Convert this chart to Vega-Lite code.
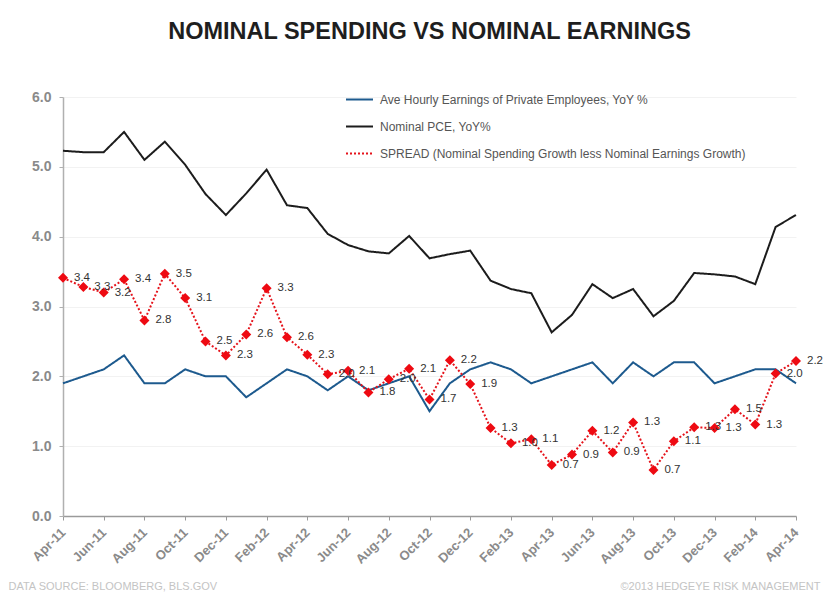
{
  "$schema": "https://vega.github.io/schema/vega-lite/v6.json",
  "width": 733,
  "height": 419,
  "autosize": "none",
  "padding": {"left": 63, "top": 97, "right": 34, "bottom": 86},
  "background": "white",
  "config": {
    "font": "Liberation Sans",
    "view": {"stroke": null}
  },
  "title": {
    "text": "NOMINAL SPENDING VS NOMINAL EARNINGS",
    "font": "Liberation Sans",
    "fontSize": 23.5,
    "fontWeight": "bold",
    "color": "#1e1e1e",
    "anchor": "middle",
    "offset": 42
  },
  "data": {
    "values": [
      {"m": "Apr-11", "earn": 1.9, "pce": 5.23, "spread": 3.41},
      {"m": "May-11", "earn": 2.0, "pce": 5.21, "spread": 3.28},
      {"m": "Jun-11", "earn": 2.1, "pce": 5.21, "spread": 3.20},
      {"m": "Jul-11", "earn": 2.3, "pce": 5.50, "spread": 3.39},
      {"m": "Aug-11", "earn": 1.9, "pce": 5.10, "spread": 2.80},
      {"m": "Sep-11", "earn": 1.9, "pce": 5.36, "spread": 3.47},
      {"m": "Oct-11", "earn": 2.1, "pce": 5.03, "spread": 3.12},
      {"m": "Nov-11", "earn": 2.0, "pce": 4.61, "spread": 2.50},
      {"m": "Dec-11", "earn": 2.0, "pce": 4.31, "spread": 2.30},
      {"m": "Jan-12", "earn": 1.7, "pce": 4.62, "spread": 2.60},
      {"m": "Feb-12", "earn": 1.9, "pce": 4.96, "spread": 3.26},
      {"m": "Mar-12", "earn": 2.1, "pce": 4.45, "spread": 2.56},
      {"m": "Apr-12", "earn": 2.0, "pce": 4.41, "spread": 2.31},
      {"m": "May-12", "earn": 1.8, "pce": 4.04, "spread": 2.03},
      {"m": "Jun-12", "earn": 2.0, "pce": 3.88, "spread": 2.08},
      {"m": "Jul-12", "earn": 1.8, "pce": 3.79, "spread": 1.77},
      {"m": "Aug-12", "earn": 1.9, "pce": 3.76, "spread": 1.96},
      {"m": "Sep-12", "earn": 2.0, "pce": 4.01, "spread": 2.11},
      {"m": "Oct-12", "earn": 1.5, "pce": 3.69, "spread": 1.67},
      {"m": "Nov-12", "earn": 1.9, "pce": 3.75, "spread": 2.23},
      {"m": "Dec-12", "earn": 2.1, "pce": 3.80, "spread": 1.89},
      {"m": "Jan-13", "earn": 2.2, "pce": 3.37, "spread": 1.26},
      {"m": "Feb-13", "earn": 2.1, "pce": 3.25, "spread": 1.04},
      {"m": "Mar-13", "earn": 1.9, "pce": 3.19, "spread": 1.10},
      {"m": "Apr-13", "earn": 2.0, "pce": 2.63, "spread": 0.73},
      {"m": "May-13", "earn": 2.1, "pce": 2.88, "spread": 0.88},
      {"m": "Jun-13", "earn": 2.2, "pce": 3.32, "spread": 1.22},
      {"m": "Jul-13", "earn": 1.9, "pce": 3.12, "spread": 0.91},
      {"m": "Aug-13", "earn": 2.2, "pce": 3.25, "spread": 1.34},
      {"m": "Sep-13", "earn": 2.0, "pce": 2.86, "spread": 0.66},
      {"m": "Oct-13", "earn": 2.2, "pce": 3.08, "spread": 1.07},
      {"m": "Nov-13", "earn": 2.2, "pce": 3.48, "spread": 1.27},
      {"m": "Dec-13", "earn": 1.9, "pce": 3.46, "spread": 1.26},
      {"m": "Jan-14", "earn": 2.0, "pce": 3.43, "spread": 1.53},
      {"m": "Feb-14", "earn": 2.1, "pce": 3.32, "spread": 1.31},
      {"m": "Mar-14", "earn": 2.1, "pce": 4.14, "spread": 2.04},
      {"m": "Apr-14", "earn": 1.9, "pce": 4.31, "spread": 2.22}
    ]
  },
  "encoding": {
    "x": {
      "field": "m",
      "type": "ordinal",
      "scale": {
        "type": "point",
        "padding": 0,
        "domain": ["Apr-11","May-11","Jun-11","Jul-11","Aug-11","Sep-11","Oct-11","Nov-11","Dec-11","Jan-12","Feb-12","Mar-12","Apr-12","May-12","Jun-12","Jul-12","Aug-12","Sep-12","Oct-12","Nov-12","Dec-12","Jan-13","Feb-13","Mar-13","Apr-13","May-13","Jun-13","Jul-13","Aug-13","Sep-13","Oct-13","Nov-13","Dec-13","Jan-14","Feb-14","Mar-14","Apr-14"]
      },
      "axis": {
        "values": ["Apr-11","Jun-11","Aug-11","Oct-11","Dec-11","Feb-12","Apr-12","Jun-12","Aug-12","Oct-12","Dec-12","Feb-13","Apr-13","Jun-13","Aug-13","Oct-13","Dec-13","Feb-14","Apr-14"],
        "labelAngle": -45,
        "labelAlign": "right",
        "labelBaseline": "middle",
        "labelFontSize": 13,
        "labelFontWeight": "bold",
        "labelColor": "#8a8a8a",
        "labelPadding": 10,
        "tickSize": 4,
        "tickColor": "#9a9a9a",
        "domainColor": "#9a9a9a",
        "domainWidth": 1.5,
        "grid": false,
        "title": "DATA SOURCE:  BLOOMBERG,  BLS.GOV",
        "titleFont": "Liberation Sans",
        "titleFontSize": 11,
        "titleFontWeight": "normal",
        "titleColor": "#c4c4c4",
        "titleAnchor": "start",
        "titleAlign": "left",
        "titleBaseline": "middle",
        "titleX": -55,
        "titleY": 70
      }
    }
  },
  "layer": [
    {
      "transform": [{"fold": ["earn", "pce", "spread"], "as": ["s", "v"]}],
      "mark": {"type": "line", "strokeWidth": 2},
      "encoding": {
        "y": {
          "field": "v",
          "type": "quantitative",
          "scale": {"domain": [0, 6], "nice": false},
          "axis": {
            "values": [0, 1, 2, 3, 4, 5, 6],
            "format": ".1f",
            "labelFontSize": 14,
            "labelFontWeight": "bold",
            "labelColor": "#8a8a8a",
            "labelPadding": 8,
            "tickSize": 4,
            "tickColor": "#b0b0b0",
            "domainColor": "#b0b0b0",
            "domainWidth": 1.5,
            "grid": true,
            "gridColor": "#f2f2f2",
            "gridWidth": 1,
            "title": "©2013 HEDGEYE  RISK MANAGEMENT",
            "titleFont": "Liberation Sans",
            "titleFontSize": 11,
            "titleFontWeight": "normal",
            "titleColor": "#c4c4c4",
            "titleAngle": 0,
            "titleAlign": "right",
            "titleBaseline": "middle",
            "titleX": 757,
            "titleY": 489
          }
        },
        "color": {
          "field": "s",
          "type": "nominal",
          "scale": {"domain": ["earn", "pce", "spread"], "range": ["#1d5a8e", "#1c1c1c", "#e5131b"]},
          "legend": {
            "title": null,
            "orient": "none",
            "legendX": 282,
            "legendY": -12,
            "symbolType": "stroke",
            "symbolSize": 729,
            "symbolStrokeWidth": 2,
            "labelFont": "Liberation Sans",
            "labelFontSize": 12,
            "labelColor": "#555555",
            "labelOffset": 6,
            "labelLimit": 0,
            "rowPadding": 6,
            "labelExpr": "datum.value == 'earn' ? 'Ave Hourly Earnings of Private Employees, YoY %' : datum.value == 'pce' ? 'Nominal PCE, YoY%' : 'SPREAD (Nominal Spending Growth less Nominal Earnings Growth)'"
          }
        },
        "strokeDash": {
          "field": "s",
          "type": "nominal",
          "scale": {"domain": ["earn", "pce", "spread"], "range": [[1, 0], [1, 0], [2, 2]]},
          "legend": {
            "title": null,
            "orient": "none",
            "legendX": 282,
            "legendY": -12,
            "symbolType": "stroke",
            "symbolSize": 729,
            "symbolStrokeWidth": 2,
            "labelFont": "Liberation Sans",
            "labelFontSize": 12,
            "labelColor": "#555555",
            "labelOffset": 6,
            "labelLimit": 0,
            "rowPadding": 6,
            "labelExpr": "datum.value == 'earn' ? 'Ave Hourly Earnings of Private Employees, YoY %' : datum.value == 'pce' ? 'Nominal PCE, YoY%' : 'SPREAD (Nominal Spending Growth less Nominal Earnings Growth)'"
          }
        }
      }
    },
    {
      "mark": {"type": "point", "shape": "diamond", "filled": true, "size": 100, "color": "#ee0a12", "opacity": 1},
      "encoding": {
        "y": {"field": "spread", "type": "quantitative"}
      }
    },
    {
      "mark": {"type": "text", "align": "left", "baseline": "middle", "dx": 11, "fontSize": 11.5, "color": "#333333"},
      "encoding": {
        "y": {"field": "spread", "type": "quantitative"},
        "text": {"field": "spread", "type": "quantitative", "format": ".1f"}
      }
    }
  ]
}
